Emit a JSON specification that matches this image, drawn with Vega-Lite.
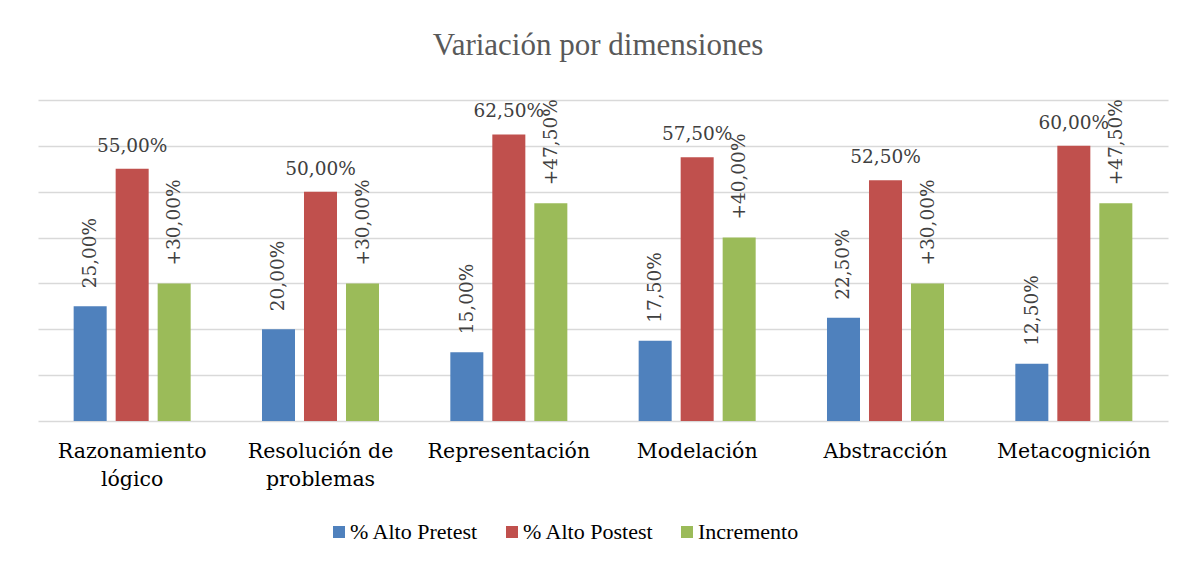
{
  "$schema": "https://vega.github.io/schema/vega-lite/v6.json",
  "autosize": {"type": "none"},
  "padding": {"left": 38, "top": 100, "right": 17, "bottom": 142},
  "width": 1130,
  "height": 321,
  "background": "white",
  "title": {
    "text": "Variación por dimensiones",
    "font": "Liberation Serif",
    "fontSize": 31,
    "fontWeight": "normal",
    "color": "#595959",
    "anchor": "middle",
    "frame": "group",
    "baseline": "alphabetic",
    "offset": 13,
    "dx": -5
  },
  "data": {
    "values": [
      {"dimension": "Razonamiento lógico", "serie": "% Alto Pretest", "valor": 25, "etiqueta": "25,00%"},
      {"dimension": "Razonamiento lógico", "serie": "% Alto Postest", "valor": 55, "etiqueta": "55,00%"},
      {"dimension": "Razonamiento lógico", "serie": "Incremento", "valor": 30, "etiqueta": "+30,00%"},
      {"dimension": "Resolución de problemas", "serie": "% Alto Pretest", "valor": 20, "etiqueta": "20,00%"},
      {"dimension": "Resolución de problemas", "serie": "% Alto Postest", "valor": 50, "etiqueta": "50,00%"},
      {"dimension": "Resolución de problemas", "serie": "Incremento", "valor": 30, "etiqueta": "+30,00%"},
      {"dimension": "Representación", "serie": "% Alto Pretest", "valor": 15, "etiqueta": "15,00%"},
      {"dimension": "Representación", "serie": "% Alto Postest", "valor": 62.5, "etiqueta": "62,50%"},
      {"dimension": "Representación", "serie": "Incremento", "valor": 47.5, "etiqueta": "+47,50%"},
      {"dimension": "Modelación", "serie": "% Alto Pretest", "valor": 17.5, "etiqueta": "17,50%"},
      {"dimension": "Modelación", "serie": "% Alto Postest", "valor": 57.5, "etiqueta": "57,50%"},
      {"dimension": "Modelación", "serie": "Incremento", "valor": 40, "etiqueta": "+40,00%"},
      {"dimension": "Abstracción", "serie": "% Alto Pretest", "valor": 22.5, "etiqueta": "22,50%"},
      {"dimension": "Abstracción", "serie": "% Alto Postest", "valor": 52.5, "etiqueta": "52,50%"},
      {"dimension": "Abstracción", "serie": "Incremento", "valor": 30, "etiqueta": "+30,00%"},
      {"dimension": "Metacognición", "serie": "% Alto Pretest", "valor": 12.5, "etiqueta": "12,50%"},
      {"dimension": "Metacognición", "serie": "% Alto Postest", "valor": 60, "etiqueta": "60,00%"},
      {"dimension": "Metacognición", "serie": "Incremento", "valor": 47.5, "etiqueta": "+47,50%"}
    ]
  },
  "encoding": {
    "x": {
      "field": "dimension",
      "type": "nominal",
      "sort": null,
      "scale": {"paddingInner": 0, "paddingOuter": 0},
      "axis": {
        "title": null,
        "labelAngle": 0,
        "domain": false,
        "ticks": false,
        "labelFont": "DejaVu Serif",
        "labelFontSize": 20.5,
        "labelColor": "#000000",
        "labelPadding": 20,
        "labelLineHeight": 28,
        "labelBaseline": "top",
        "labelExpr": "datum.value == 'Razonamiento lógico' ? ['Razonamiento', 'lógico'] : datum.value == 'Resolución de problemas' ? ['Resolución de', 'problemas'] : datum.value"
      }
    },
    "xOffset": {
      "field": "serie",
      "type": "nominal",
      "sort": ["% Alto Pretest", "% Alto Postest", "Incremento"],
      "scale": {"paddingInner": 0.214, "paddingOuter": 0.849}
    },
    "y": {
      "field": "valor",
      "type": "quantitative",
      "scale": {"domain": [0, 70], "nice": false},
      "axis": {
        "title": null,
        "labels": false,
        "ticks": false,
        "domain": false,
        "values": [0, 10, 20, 30, 40, 50, 60, 70],
        "grid": true,
        "gridColor": "#d9d9d9",
        "gridWidth": 1.5
      }
    }
  },
  "layer": [
    {
      "mark": {"type": "bar"},
      "encoding": {
        "color": {
          "field": "serie",
          "type": "nominal",
          "scale": {
            "domain": ["% Alto Pretest", "% Alto Postest", "Incremento"],
            "range": ["#4f81bd", "#c0504d", "#9bbb59"]
          },
          "legend": {
            "title": null,
            "orient": "none",
            "direction": "horizontal",
            "legendX": 290,
            "legendY": 421,
            "symbolType": "square",
            "symbolSize": 144,
            "symbolStrokeWidth": 0,
            "labelFont": "Liberation Serif",
            "labelFontSize": 22,
            "labelColor": "#000000",
            "labelOffset": 0,
            "columnPadding": 22,
            "padding": 0
          }
        }
      }
    },
    {
      "transform": [{"filter": "datum.serie == '% Alto Postest'"}],
      "mark": {
        "type": "text",
        "baseline": "alphabetic",
        "align": "center",
        "dy": -17,
        "font": "DejaVu Serif",
        "fontSize": 18.5,
        "color": "#404040"
      },
      "encoding": {"text": {"field": "etiqueta"}}
    },
    {
      "transform": [{"filter": "datum.serie != '% Alto Postest'"}],
      "mark": {
        "type": "text",
        "angle": 270,
        "baseline": "middle",
        "align": "left",
        "dx": 18,
        "font": "DejaVu Serif",
        "fontSize": 18.5,
        "color": "#404040"
      },
      "encoding": {"text": {"field": "etiqueta"}}
    }
  ],
  "config": {"view": {"stroke": null}}
}
